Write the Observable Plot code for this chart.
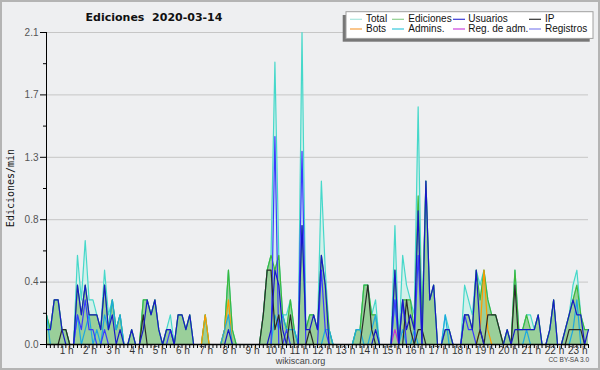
<!DOCTYPE html>
<html><head><meta charset="utf-8">
<script src="https://cdn.jsdelivr.net/npm/d3@7"></script>
<script src="https://cdn.jsdelivr.net/npm/@observablehq/plot@0.6"></script>
<style>
body{margin:0;background:#eeeff1;}
#wrap{position:relative;width:600px;height:370px;overflow:hidden;background:#eeeff1;}
</style></head>
<body><div id="wrap"></div>
<script>
// 10-minute bins, 00:00 .. 23:20 (edits per minute)
const binMinutes = 10;
const Total = [
 .2,.1,.3,.3,.1,.1,  0,0,.6,.3,.7,.3,  .3,.2,.1,.5,.2,.3,  .1,.2,0,0,.1,0,
 0,.3,.3,.2,.3,.1,  0,.1,.2,0,.2,.2,  .1,.2,0,0,0,.2,  0,0,0,0,.1,.5,
 .1,0,0,0,0,0,  0,0,.2,.5,.6,1.9,  .6,.2,.2,.3,.1,0,  2.1,.1,.2,.2,.1,1.1,
 .5,.1,0,0,0,0,  0,0,.1,.1,.4,.4,  .2,.3,0,0,0,0,  .8,0,.6,.4,.3,.2,
 1.6,.1,1.1,.3,.4,0,  0,.2,.1,0,0,0,  .4,.3,.2,.5,.4,.5,  .3,.2,.2,.1,0,.1,
 0,.5,.1,.1,.2,.2,  .1,.2,0,0,.1,.3,  0,0,.1,.2,.4,.5,  .2,.1,.1];
const Ediciones = [
 .2,.1,.3,.3,.1,.1,  0,0,.4,.2,.4,.2,  .2,.2,.1,.4,.1,.3,  .1,.2,0,0,.1,0,
 0,.3,.3,.2,.3,.1,  0,.1,.1,0,.2,.2,  .1,.2,0,0,0,.2,  0,0,0,0,.1,.5,
 .1,0,0,0,0,0,  0,0,.2,.5,.6,.5,  .6,.2,.1,.3,.1,0,  .8,.1,.2,.2,.1,.6,
 .4,.1,0,0,0,0,  0,0,.1,.1,.4,.4,  .2,.2,0,0,0,0,  .5,0,.3,.3,.3,.1,
 1.0,.1,1.1,.3,.4,0,  0,.1,.1,0,0,0,  .2,.2,.1,.5,.3,.5,  .3,.2,.2,.1,0,.1,
 0,.5,.1,.1,.2,.1,  .1,.2,0,0,.1,.3,  0,0,.1,.2,.3,.4,  .2,.1,.1];
const Usuarios = [
 .1,.1,.3,.3,.1,0,  0,0,.4,.2,.4,.2,  .2,.2,.1,.4,.1,.2,  0,.1,0,0,.1,0,
 0,.1,.3,.2,.3,.1,  0,.1,.1,0,.2,.2,  .1,.2,0,0,0,0,  0,0,0,0,0,.1,
 0,0,0,0,0,0,  0,0,0,0,.1,.5,  .4,.1,0,0,0,0,  .8,.1,.1,.2,.1,.6,
 .4,0,0,0,0,0,  0,0,0,0,0,0,  0,.1,0,0,0,0,  .5,0,.3,.1,.2,.1,
 .9,0,1.1,.3,.4,0,  0,.1,.1,0,0,0,  .2,.2,.1,.5,.1,0,  0,0,0,0,0,.1,
 0,.1,.1,.1,.1,.1,  .1,.2,0,0,.1,.3,  0,0,.1,.2,.3,.2,  .2,0,.1];
const IP = [
 0,0,0,0,.1,.1,  0,0,0,0,0,0,  0,0,0,0,0,0,  0,0,0,0,0,0,
 0,.2,0,0,0,0,  0,0,0,0,0,0,  0,0,0,0,0,0,  0,0,0,0,0,0,
 0,0,0,0,0,0,  0,0,.2,.5,.5,.1,  .2,0,0,.2,0,0,  0,0,.1,0,0,0,
 0,0,0,0,0,0,  0,0,0,0,.2,.4,  .1,0,0,0,0,0,  0,0,0,.3,.1,0,
 .1,.1,0,0,0,0,  0,0,0,0,0,0,  0,0,0,0,.1,0,  .2,.2,.2,.1,0,0,
 0,.4,0,0,0,0,  0,0,0,0,0,0,  0,0,0,.1,.1,.1,  .1,0,0];
const Bots = [
 0,0,0,0,0,0,  0,0,0,0,0,0,  0,0,0,0,0,0,  0,0,0,0,0,0,
 0,0,0,0,0,0,  0,0,0,0,0,0,  0,0,0,0,0,.2,  0,0,0,0,.1,.3,
 0,0,0,0,0,0,  0,0,0,0,0,0,  0,0,0,0,0,0,  0,0,0,0,0,0,
 0,0,0,0,0,0,  0,0,0,0,0,0,  0,0,0,0,0,0,  0,0,0,0,0,0,
 0,0,0,0,0,0,  0,0,0,0,0,0,  0,0,0,0,.1,.5,  .1,0,0,0,0,0,
 0,0,0,0,0,0,  0,0,0,0,0,0,  0,0,0,0,0,0,  0,0,0];
const Admins = [
 .2,0,0,0,0,0,  0,0,.2,0,.1,.2,  0,.1,0,.2,.1,.3,  .1,.2,0,0,0,0,
 0,0,0,0,0,0,  0,0,0,0,0,0,  0,0,0,0,0,0,  0,0,0,0,.1,.2,
 0,0,0,0,0,0,  0,0,0,0,0,.2,  .1,.2,.1,.1,.1,0,  0,0,0,0,0,0,
 .1,.1,0,0,0,0,  0,0,.1,.1,0,0,  .1,.2,0,0,0,0,  .3,0,.1,0,0,.1,
 0,0,0,0,0,0,  0,.2,0,0,0,0,  0,0,0,0,0,0,  0,0,0,0,0,0,
 0,0,0,0,.1,0,  0,0,0,0,0,0,  0,0,0,0,.1,.3,  0,0,0];
const RegAdm = [
 0,0,0,0,0,0,  0,0,0,0,0,0,  0,0,0,0,0,0,  0,0,0,0,0,0,
 0,0,0,0,0,0,  0,0,0,0,0,0,  0,0,0,0,0,0,  0,0,0,0,0,0,
 0,0,0,0,0,0,  0,0,0,0,0,0,  0,0,0,0,0,0,  0,0,0,0,0,0,
 0,0,0,0,0,0,  0,0,0,0,0,0,  0,0,0,0,0,0,  .1,0,0,0,0,0,
 0,0,0,0,0,0,  0,0,0,0,0,0,  0,0,0,0,0,0,  0,0,0,0,0,0,
 0,0,0,0,0,0,  0,0,0,0,0,0,  0,0,0,0,0,0,  0,0,0];
const Registros = [
 0,0,0,0,0,0,  0,0,.2,.1,.3,.1,  .1,0,0,.1,0,0,  0,0,0,0,0,0,
 0,0,0,0,0,0,  0,0,.1,0,0,0,  0,0,0,0,0,0,  0,0,0,0,0,0,
 0,0,0,0,0,0,  0,0,0,0,0,1.4,  0,0,.1,0,0,0,  1.3,0,0,0,0,.5,
 .1,0,0,0,0,0,  0,0,0,0,0,0,  0,0,0,0,0,0,  .3,0,.3,0,0,0,
 .6,0,0,0,0,0,  0,0,0,0,0,0,  .2,.1,.1,0,0,0,  0,0,0,0,0,0,
 0,0,0,0,0,0,  0,0,0,0,0,0,  0,0,0,0,0,0,  0,0,0];

const yTicks = [0, 0.42, 0.84, 1.26, 1.68, 2.1];
const yMinor = [0.21, 0.63, 1.05, 1.47, 1.89];
const hourLabels = d3.range(1, 24);
const legendNames = ["Total", "Ediciones", "Usuarios", "IP", "Bots", "Admins.", "Reg. de adm.", "Registros"];
const legendColors = ["#a9e6de", "#8fd08f", "#3a3ad6", "#333333", "#f7a040", "#38c8dc", "#cc44dd", "#8484ee"];

const times = Total.map((_, i) => i * binMinutes / 60);
const X = (d, i) => times[i];
const Y = d => d;
const ln = (arr, stroke) => Plot.lineY(arr, {x: X, y: Y, stroke, strokeWidth: 1.2});

const chart = Plot.plot({
  width: 600, height: 370,
  marginLeft: 46, marginRight: 12, marginTop: 32, marginBottom: 26,
  style: {background: "transparent", fontFamily: "Liberation Sans", overflow: "visible"},
  x: {domain: [0, times[times.length - 1]]},
  y: {domain: [0, 2.1]},
  marks: [
    Plot.gridY(yTicks, {stroke: "#c6c6c6", strokeOpacity: 1}),
    Plot.areaY(Total, {x: X, y: Y, fill: "#d3f0ea"}),
    Plot.areaY(Ediciones, {x: X, y: Y, fill: "#9acf9a"}),
    ln(Total, "#46d8ca"),
    ln(Ediciones, "#3cb83c"),
    ln(Bots, "#ff9a00"),
    ln(Admins, "#1ea8e0"),
    ln(RegAdm, "#cc33cc"),
    ln(Registros, "#3a3aff"),
    ln(IP, "#2a2a2a"),
    ln(Usuarios, "#1818c8"),
    Plot.ruleX([0], {stroke: "#000"}),
    Plot.ruleY([0], {stroke: "#000", strokeWidth: 1.5}),
    Plot.axisY(yTicks, {tickSize: 6, tickPadding: 2, tickFormat: d => d.toFixed(1), fontSize: 10, stroke: "#000", fill: "#555", label: null}),
    Plot.axisY(yMinor, {tickSize: 3, tickFormat: () => "", stroke: "#000", label: null}),
    Plot.axisX(times, {tickSize: 4, tickFormat: () => "", stroke: "#000", label: null}),
    Plot.axisX(hourLabels, {tickSize: 0, tickPadding: 2, dx: -3, tickFormat: d => d + " h", fontSize: 10, fill: "#333", label: null})
  ]
});
document.getElementById("wrap").appendChild(chart);

const svg = d3.select(chart);
svg.append("rect").attr("x", 1).attr("y", 1).attr("width", 598).attr("height", 368)
  .attr("fill", "none").attr("stroke", "#b4b4b4").attr("stroke-width", 2);
svg.append("text").attr("x", 154).attr("y", 20.5).attr("text-anchor", "middle")
  .style("font", "bold 11px 'DejaVu Sans'").attr("fill", "#111").attr("xml:space", "preserve")
  .text("Ediciones  2020-03-14");
svg.append("text").attr("transform", "translate(14,188) rotate(-90)").attr("text-anchor", "middle")
  .style("font", "10px 'DejaVu Sans Mono'").attr("fill", "#111").text("Ediciones/min");
svg.append("text").attr("x", 300.5).attr("y", 364).attr("text-anchor", "middle")
  .style("font", "9px 'Liberation Sans'").attr("fill", "#444").text("wikiscan.org");
svg.append("text").attr("x", 589).attr("y", 362).attr("text-anchor", "end")
  .style("font", "6.5px 'Liberation Sans'").attr("fill", "#444").text("CC BY-SA 3.0");

// legend
const lg = svg.append("g").attr("text-anchor", "start");
lg.append("rect").attr("x", 342.7).attr("y", 15).attr("width", 247).attr("height", 26.7).attr("fill", "#777");
lg.append("rect").attr("x", 346).attr("y", 11.7).attr("width", 247).attr("height", 26.7)
  .attr("fill", "#fff").attr("stroke", "#a0a0a0");
const colSw = [350, 392, 453, 529], colTx = [366, 408.3, 468.3, 545];
const rowY = [19.3, 29], rowBase = [22.3, 32.3];
legendNames.forEach((name, k) => {
  const c = k % 4, r = Math.floor(k / 4);
  lg.append("line").attr("x1", colSw[c]).attr("x2", colSw[c] + 12).attr("y1", rowY[r]).attr("y2", rowY[r])
    .attr("stroke", legendColors[k]).attr("stroke-width", 1.2);
  lg.append("text").attr("x", colTx[c]).attr("y", rowBase[r]).attr("text-anchor", "start")
    .style("font", "10px 'Liberation Sans'").attr("fill", "#111").text(name);
});
</script></body></html>
